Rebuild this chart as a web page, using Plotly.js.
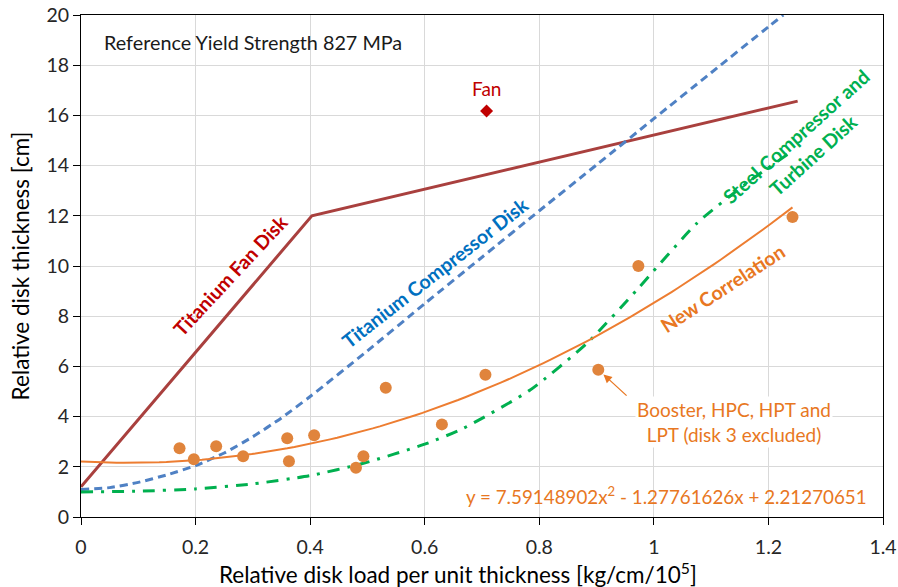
<!DOCTYPE html>
<html>
<head>
<meta charset="utf-8">
<script src="https://cdn.plot.ly/plotly-3.0.1.min.js"></script>
<style>
  html, body { margin: 0; padding: 0; background: #ffffff; }
  #chart { width: 898px; height: 587px; }
</style>
</head>
<body>
<div id="chart"></div>
<script>
// Measured disks: booster, HPC, HPT and LPT (disk 3 excluded)
const diskLoad = [0.172, 0.197, 0.236, 0.283, 0.360, 0.363, 0.407, 0.480, 0.493, 0.532, 0.630, 0.706, 0.903, 0.973, 1.242];
const diskThickness = [2.74, 2.30, 2.82, 2.42, 3.14, 2.22, 3.26, 1.96, 2.42, 5.15, 3.69, 5.67, 5.87, 10.0, 11.95];

// Fan disk point
const fanLoad = [0.708];
const fanThickness = [16.18];

// Titanium fan disk design line
const tiFanLoad = [0.0, 0.403, 1.251];
const tiFanThickness = [1.2, 12.0, 16.57];

// Titanium compressor disk design curve
const tiCompLoad = [0.0, 0.05, 0.10, 0.15, 0.20, 0.25, 0.30, 0.35, 0.40, 0.50, 0.60, 0.70, 0.80, 0.90, 1.00, 1.10, 1.20, 1.226];
const tiCompThickness = [1.1, 1.17, 1.38, 1.68, 2.05, 2.55, 3.2, 3.95, 4.8, 6.62, 8.5, 10.35, 12.2, 14.03, 15.87, 17.7, 19.53, 20.0];

// Steel compressor and turbine disk design curve
const steelLoad = [0.0, 0.1, 0.2, 0.3, 0.4, 0.493, 0.6, 0.667, 0.784, 0.883, 0.970, 1.075, 1.168, 1.237];
const steelThickness = [1.0, 1.03, 1.12, 1.32, 1.65, 2.14, 2.9, 3.53, 5.06, 6.92, 9.04, 11.7, 13.4, 14.5];

// Quadratic fit "New Correlation": c2*x^2 + c1*x + c0
const fitCoeffs = [7.59148902, -1.27761626, 2.21270651];

const fitX = [];
const fitY = [];
const xMax = Math.max(...diskLoad);
for (let i = 0; i <= 100; i++) {
  const x = xMax * i / 100;
  fitX.push(x);
  fitY.push(fitCoeffs[0] * x * x + fitCoeffs[1] * x + fitCoeffs[2]);
}

const FONT = 'Lato, "Open Sans", sans-serif';
const RED = '#C00000';
const BLUE = '#0070C0';
const GREEN = '#00B050';
const ORANGE = '#E87722';

const traces = [
  {
    x: tiFanLoad, y: tiFanThickness, mode: 'lines', name: 'Titanium Fan Disk',
    line: { color: '#A9403E', width: 3 }
  },
  {
    x: tiCompLoad, y: tiCompThickness, mode: 'lines', name: 'Titanium Compressor Disk',
    line: { color: '#4F81C4', width: 3, dash: '8px,5px', shape: 'spline', smoothing: 0.6 }
  },
  {
    x: steelLoad, y: steelThickness, mode: 'lines', name: 'Steel Compressor and Turbine Disk',
    line: { color: '#00B04F', width: 3, dash: '12px,8px,3px,8px', shape: 'spline', smoothing: 0.6 }
  },
  {
    x: fitX, y: fitY, mode: 'lines', name: 'New Correlation',
    line: { color: '#ED7D31', width: 2 }
  },
  {
    x: diskLoad, y: diskThickness, mode: 'markers', name: 'Booster, HPC, HPT and LPT',
    marker: { color: '#E0843C', size: 12 }
  },
  {
    x: fanLoad, y: fanThickness, mode: 'markers', name: 'Fan',
    marker: { color: '#C00000', size: 10, symbol: 'diamond' }
  }
];

const eqText = 'y = ' + fitCoeffs[0].toFixed(8) + 'x<sup>2</sup> - ' +
  Math.abs(fitCoeffs[1]).toFixed(8) + 'x + ' + fitCoeffs[2].toFixed(8);

const annotations = [
  {
    xref: 'paper', yref: 'paper', x: 0.026, y: 0.946, xanchor: 'left', yanchor: 'middle',
    text: 'Reference Yield Strength 827 MPa', showarrow: false,
    font: { family: FONT, size: 19.8, color: '#1a1a1a' }
  },
  {
    x: fanLoad[0], y: fanThickness[0], yshift: 22, text: 'Fan', showarrow: false,
    font: { family: FONT, size: 19, color: RED }
  },
  {
    x: 0.26, y: 9.64, text: '<b>Titanium Fan Disk</b>', textangle: -47, showarrow: false,
    font: { family: FONT, size: 19.5, color: RED }
  },
  {
    x: 0.618, y: 9.76, text: '<b>Titanium Compressor Disk</b>', textangle: -38, showarrow: false,
    font: { family: FONT, size: 19.5, color: BLUE }
  },
  {
    x: 1.262, y: 14.8, text: '<b>Steel Compressor and<br>Turbine Disk</b>', textangle: -42, showarrow: false,
    font: { family: FONT, size: 19.5, color: GREEN }
  },
  {
    x: 1.119, y: 9.12, text: '<b>New Correlation</b>', textangle: -33, showarrow: false,
    font: { family: FONT, size: 19.5, color: ORANGE }
  },
  {
    x: 1.14, y: 3.78, text: 'Booster, HPC, HPT and<br>LPT (disk 3 excluded)', showarrow: false,
    bgcolor: '#ffffff', font: { family: FONT, size: 19, color: ORANGE }
  },
  {
    x: diskLoad[12], y: diskThickness[12], ax: 0.955, ay: 4.78, axref: 'x', ayref: 'y',
    text: '', showarrow: true, arrowhead: 2, arrowsize: 1.3, arrowwidth: 1.3,
    arrowcolor: ORANGE, standoff: 7
  },
  {
    x: 1.375, y: 0.84, xanchor: 'right', yanchor: 'middle', text: eqText, showarrow: false,
    font: { family: FONT, size: 18.8, color: ORANGE }
  },
  {
    // x-axis title, centred under the chart body
    xref: 'paper', yref: 'paper', x: 0.47, y: -0.1116, xanchor: 'center', yanchor: 'middle',
    text: 'Relative disk load per unit thickness [kg/cm/10<sup>5</sup>]', showarrow: false,
    font: { family: FONT, size: 22.5, color: '#000000' }
  }
];

const layout = {
  width: 898, height: 587,
  margin: { l: 81, r: 15, t: 15, b: 70 },
  paper_bgcolor: '#ffffff', plot_bgcolor: '#ffffff',
  showlegend: false,
  font: { family: FONT, color: '#262626' },
  xaxis: {
    range: [0, 1.4], dtick: 0.2, tick0: 0,
    showgrid: true, gridcolor: '#d9d9d9', gridwidth: 1, zeroline: false,
    showline: true, linecolor: '#000000', linewidth: 1, mirror: true,
    ticks: 'outside', ticklen: 7, tickcolor: '#000000', ticklabelstandoff: 6,
    tickfont: { family: FONT, size: 19.5, color: '#262626' }
  },
  yaxis: {
    range: [0, 20], dtick: 2, tick0: 0,
    showgrid: true, gridcolor: '#d9d9d9', gridwidth: 1, zeroline: false,
    showline: true, linecolor: '#000000', linewidth: 1, mirror: true,
    ticks: 'outside', ticklen: 7, tickcolor: '#000000',
    tickfont: { family: FONT, size: 19.5, color: '#262626' },
    title: { text: 'Relative disk thickness [cm]',
             font: { family: FONT, size: 22.5, color: '#000000' }, standoff: 10 }
  },
  annotations: annotations
};

Plotly.newPlot('chart', traces, layout, { displayModeBar: false, staticPlot: true });
</script>
</body>
</html>
